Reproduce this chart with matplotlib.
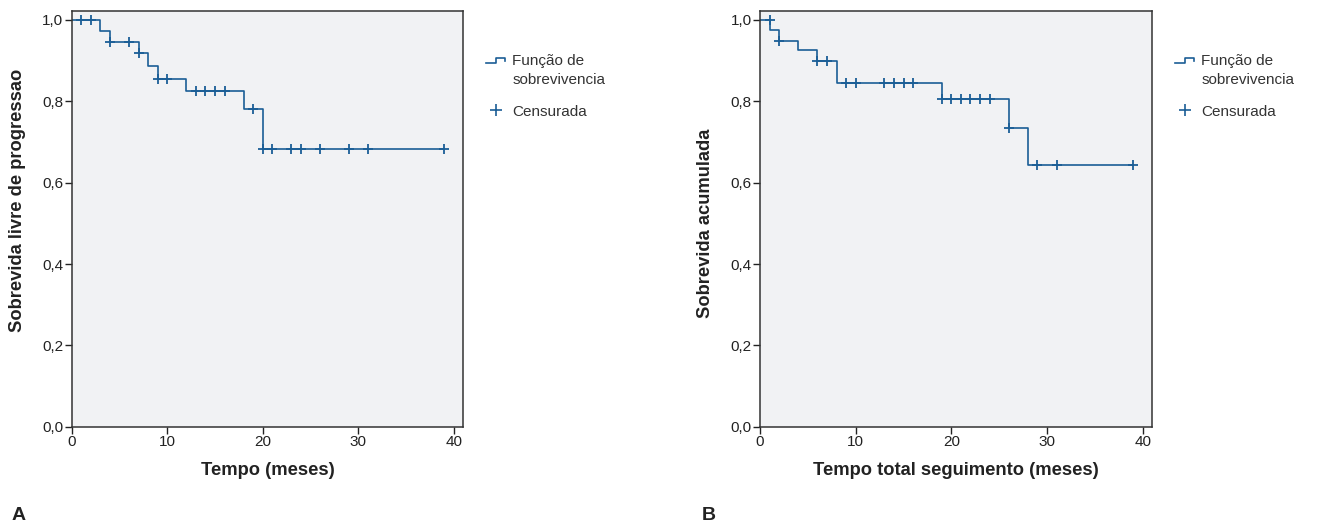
import numpy as np
import matplotlib
matplotlib.use("Agg")
import matplotlib.pyplot as plt
from matplotlib.lines import Line2D
from matplotlib.legend_handler import HandlerBase

plt.rcParams['font.family'] = ['Liberation Sans', 'DejaVu Sans']

# dados
# A: sobrevida livre de progressão
tempo_a = [0, 3, 4, 7, 8, 9, 12, 18, 20, 39]
surv_a = [1.0, 0.974, 0.947, 0.918, 0.886, 0.856, 0.825, 0.782, 0.683, 0.683]
cens_t_a = [1, 2, 4, 6, 7, 9, 10, 13, 14, 15, 16, 19, 20, 21, 23, 24, 26, 29, 31, 39]
cens_s_a = [1.0, 1.0, 0.947, 0.947, 0.918, 0.856, 0.856, 0.825, 0.825, 0.825, 0.825,
            0.782, 0.683, 0.683, 0.683, 0.683, 0.683, 0.683, 0.683, 0.683]

# B: sobrevida acumulada
tempo_b = [0, 1, 2, 4, 6, 8, 19, 26, 28, 39]
surv_b = [1.0, 0.975, 0.949, 0.926, 0.899, 0.845, 0.806, 0.735, 0.643, 0.643]
cens_t_b = [1, 2, 6, 7, 9, 10, 13, 14, 15, 16, 19, 20, 21, 22, 23, 24, 26, 29, 31, 39]
cens_s_b = [1.0, 0.949, 0.899, 0.899, 0.845, 0.845, 0.845, 0.845, 0.845, 0.845,
            0.806, 0.806, 0.806, 0.806, 0.806, 0.806, 0.735, 0.643, 0.643, 0.643]

yticks = [0.0, 0.2, 0.4, 0.6, 0.8, 1.0]
xticks = [0, 10, 20, 30, 40]

azul = '#1b5e96'
fundo = '#f1f2f4'
texto = '#222222'


class HandlerStep(HandlerBase):
    # glifo em degrau para a legenda
    def create_artists(self, legend, orig_handle, xdescent, ydescent,
                       width, height, fontsize, trans):
        y0 = -ydescent + height * 0.3 + 7.5
        y1 = y0 + height * 0.4
        xs = [-xdescent, -xdescent + width * 0.5, -xdescent + width * 0.5,
              -xdescent + width, -xdescent + width]
        ys = [y0, y0, y1, y1, y1 - height * 0.25]
        ln = Line2D(xs, ys, color=azul, lw=1.2, transform=trans)
        return [ln]


fig = plt.figure(figsize=(13.19, 5.24), dpi=100)
ax_a = fig.add_axes([0.0544, 0.1857, 0.2969, 0.794])
ax_b = fig.add_axes([0.5762, 0.1857, 0.2974, 0.794])

paineis = [
    (ax_a, tempo_a, surv_a, cens_t_a, cens_s_a,
     'Tempo (meses)', 'Sobrevida livre de progressao', 0.545, 'A', 0.009),
    (ax_b, tempo_b, surv_b, cens_t_b, cens_s_b,
     'Tempo total seguimento (meses)', 'Sobrevida acumulada', 0.49, 'B', 0.532),
]

for ax, t, s, ct, cs, xl, yl, ypos, letra, xletra in paineis:
    ax.set_facecolor(fundo)
    ax.step(t, s, where='post', color=azul, lw=1.2)
    ax.plot(ct, cs, linestyle='none', marker='+', color=azul,
            markersize=7, markeredgewidth=1.3)
    ax.set_xlim(0, 41)
    ax.set_ylim(0, 1.023)
    ax.set_xticks(xticks)
    ax.set_yticks(yticks)
    ax.set_yticklabels([f'{v:.1f}'.replace('.', ',') for v in yticks])
    ax.tick_params(direction='out', length=5, width=1, colors=texto,
                   labelsize=11, pad=1)
    for sp in ax.spines.values():
        sp.set_color('#333333')
        sp.set_linewidth(1.1)
    ax.set_xlabel(xl, fontsize=13.2, fontweight='bold', color=texto, labelpad=9)
    ax.set_ylabel(yl, fontsize=13.2, fontweight='bold', color=texto)
    ax.yaxis.set_label_coords(-0.117, ypos)

    h1 = Line2D([], [], color=azul)
    h2 = Line2D([], [], color=azul, linestyle='none', marker='+',
                markersize=9, markeredgewidth=1.2)
    leg = ax.legend([h1, h2], ['Função de\nsobrevivencia', 'Censurada'],
                    handler_map={h1: HandlerStep()},
                    loc='upper left', bbox_to_anchor=(1.043, 0.91),
                    frameon=False, fontsize=11, handlelength=1.25,
                    handletextpad=0.45, labelspacing=1.15, borderaxespad=0)
    for tx in leg.get_texts():
        tx.set_color('#333333')
        tx.set_linespacing(1.45)

    fig.text(xletra, 0.008, letra, fontsize=14, fontweight='bold', color=texto)

fig.savefig('out.png', dpi=100)
